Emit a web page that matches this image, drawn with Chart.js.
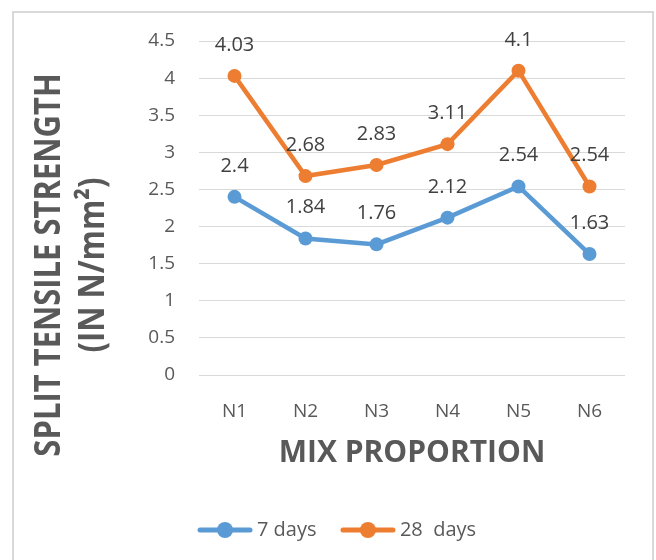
<!DOCTYPE html>
<html>
<head>
<meta charset="utf-8">
<title>Split tensile strength</title>
<script src="https://cdn.jsdelivr.net/npm/chart.js@4/dist/chart.umd.min.js"></script>
<style>
  html, body { margin: 0; padding: 0; background: #ffffff; width: 656px; height: 560px; overflow: hidden; }
  #frame { position: absolute; left: 12px; top: 11px; width: 642px; height: 620px; border: 2px solid #d9d9d9; box-sizing: border-box; }
  #wrap { position: absolute; left: 0; top: 0; width: 656px; height: 560px; }
</style>
</head>
<body>
<div id="frame"></div>
<div id="wrap"><canvas id="chart" width="656" height="560"></canvas></div>
<script>
// Mix proportions and measured split tensile strength (N/mm²)
const categories = ['N1', 'N2', 'N3', 'N4', 'N5', 'N6'];
const days7 = [2.4, 1.84, 1.76, 2.12, 2.54, 1.63];
const days28 = [4.03, 2.68, 2.83, 3.11, 4.1, 2.54];
const seriesNames = ['7 days', '28  days'];
const yTickLabels = ['0', '0.5', '1', '1.5', '2', '2.5', '3', '3.5', '4', '4.5'];
const yTitleLines = ['SPLIT TENSILE STRENGTH', '(IN N/mm²)'];
const xTitle = 'MIX PROPORTION';

const BLUE = '#5b9bd5';
const ORANGE = '#ed7d31';
const TEXT = '#595959';
const FONT = "'Open Sans', 'DejaVu Sans', sans-serif";

Chart.defaults.font.family = FONT;
Chart.defaults.color = TEXT;

// Legend swatch: a short line with a round marker on it
function legendMarker(color) {
  const c = document.createElement('canvas');
  c.width = 56; c.height = 18;
  const g = c.getContext('2d');
  g.strokeStyle = color;
  g.lineWidth = 5;
  g.lineCap = 'round';
  g.beginPath(); g.moveTo(3, 9); g.lineTo(53, 9); g.stroke();
  g.fillStyle = color;
  g.beginPath(); g.arc(28, 9, 8, 0, Math.PI * 2); g.fill();
  return c;
}
const markers = [legendMarker(BLUE), legendMarker(ORANGE)];

// Value labels above every point
const valueLabels = {
  id: 'valueLabels',
  afterDatasetsDraw(chart) {
    const ctx = chart.ctx;
    ctx.save();
    ctx.font = '20px ' + FONT;
    ctx.fillStyle = '#404040';
    ctx.textAlign = 'center';
    ctx.textBaseline = 'alphabetic';
    chart.data.datasets.forEach((ds, di) => {
      const meta = chart.getDatasetMeta(di);
      meta.data.forEach((pt, i) => {
        ctx.fillText(String(ds.data[i]), pt.x, pt.y - 25);
      });
    });
    ctx.restore();
  }
};

// Two-line vertical axis title, set beside the value axis
const yAxisTitle = {
  id: 'yAxisTitle',
  afterDraw(chart) {
    const ctx = chart.ctx;
    const baselines = [60, 104];
    const cy = 265;
    ctx.save();
    ctx.font = 'bold 31px ' + FONT;
    ctx.fillStyle = TEXT;
    ctx.textAlign = 'center';
    ctx.textBaseline = 'alphabetic';
    yTitleLines.forEach((line, i) => {
      ctx.save();
      ctx.translate(baselines[i], cy);
      ctx.scale(1.15, 1);
      ctx.rotate(-Math.PI / 2);
      ctx.fillText(line, 0, 0);
      ctx.restore();
    });
    ctx.restore();
  }
};

const lineStyle = (color) => ({
  borderColor: color,
  backgroundColor: color,
  pointBackgroundColor: color,
  pointBorderColor: color,
  borderWidth: 4.5,
  pointRadius: 7,
  pointHoverRadius: 7,
  pointBorderWidth: 0,
  tension: 0,
  clip: false
});

new Chart(document.getElementById('chart'), {
  type: 'line',
  data: {
    labels: categories,
    datasets: [
      Object.assign({ label: seriesNames[0], data: days7 }, lineStyle(BLUE)),
      Object.assign({ label: seriesNames[1], data: days28 }, lineStyle(ORANGE))
    ]
  },
  options: {
    responsive: false,
    animation: false,
    layout: { padding: { left: 54, right: 31, top: 41, bottom: 10 } },
    plugins: {
      tooltip: { enabled: false },
      legend: {
        position: 'bottom',
        labels: {
          usePointStyle: true,
          pointStyleWidth: 44,
          padding: 29.4,
          color: TEXT,
          font: { size: 20 },
          generateLabels(chart) {
            const items = Chart.defaults.plugins.legend.labels.generateLabels(chart);
            return items.map((it, i) => Object.assign(it, { pointStyle: markers[i], rotation: 0 }));
          }
        }
      }
    },
    scales: {
      x: {
        offset: true,
        grid: { display: false },
        border: { display: false },
        ticks: { color: TEXT, font: { size: 19 }, padding: 17 },
        title: {
          display: true,
          text: xTitle,
          color: TEXT,
          font: { size: 30, weight: 'bold' },
          padding: { top: 0, bottom: 19.6 }
        },
        afterFit(scale) { scale.height = 115.6; }
      },
      y: {
        min: 0,
        max: 4.5,
        grid: { color: '#d9d9d9', lineWidth: 1, drawTicks: false },
        border: { display: false },
        ticks: {
          stepSize: 0.5,
          color: TEXT,
          font: { size: 19 },
          padding: 24,
          callback: (value, index) => yTickLabels[index]
        },
        afterFit(scale) { scale.width = 145; }
      }
    }
  },
  plugins: [valueLabels, yAxisTitle]
});
</script>
</body>
</html>
